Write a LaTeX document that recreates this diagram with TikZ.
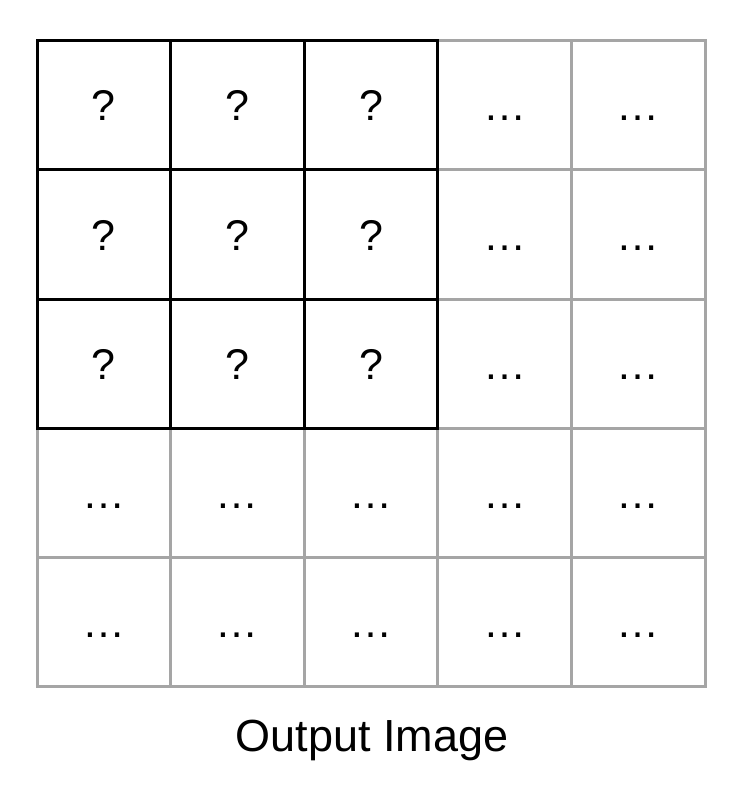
\documentclass[tikz,border=0pt]{standalone}
\usepackage{fontspec}
\setmainfont{Liberation Sans}
\definecolor{gridgray}{HTML}{A5A5A5}
\begin{document}
\begin{tikzpicture}[x=1pt,y=-1pt,
  cell/.style={draw=gridgray, line width=3pt, inner sep=0pt, minimum width=133.6pt, minimum height=129pt,
    font=\fontsize{43}{50}\selectfont, text height=31pt, text depth=0pt},
  darkcell/.style={cell, draw=black},
  caption/.style={font=\fontsize{45}{52}\selectfont, anchor=base}]
\useasboundingbox (0,0) rectangle (742,794);
% gray cells
\foreach \r in {1,...,5}{
  \foreach \c in {1,...,5}{
    \pgfmathsetmacro\cx{37+133.6*(\c-0.5)}
    \pgfmathsetmacro\cy{41+129*(\r-0.5)}
    \ifnum\r<4 \ifnum\c<4 \else
      \node[cell] (g-\r-\c) at (\cx,\cy) {…};
    \fi \else
      \node[cell] (g-\r-\c) at (\cx,\cy) {…};
    \fi
  }
}
% black cells
\foreach \r in {1,2,3}{
  \foreach \c in {1,2,3}{
    \pgfmathsetmacro\cx{37+133.6*(\c-0.5)}
    \pgfmathsetmacro\cy{41+129*(\r-0.5)}
    \node[darkcell] (b-\r-\c) at (\cx,\cy) {?};
  }
}
\node[caption] (cap) at (372,751) {Output Image};
\end{tikzpicture}
\end{document}
